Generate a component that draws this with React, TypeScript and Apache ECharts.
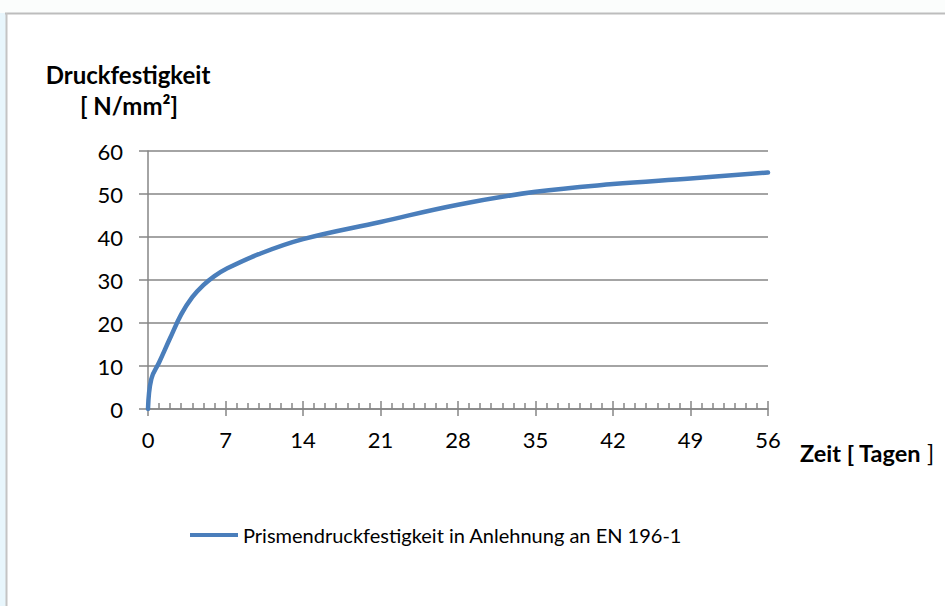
import React, { useEffect, useRef } from "react";
import * as echarts from "echarts";

const days: number[] = [0, 0.3, 1, 2, 3, 4, 5, 6, 7, 10, 14, 21, 28, 35, 42, 49, 56];
const strength: number[] = [0, 7, 10.8, 16.5, 22.0, 26.0, 28.8, 30.9, 32.5, 36, 39.5, 43.5, 47.5, 50.5, 52.3, 53.6, 55];
const seriesName = "Prismendruckfestigkeit in Anlehnung an EN 196-1";
const yTitleLines = ["Druckfestigkeit", "[ N/mm²]"];
const xTitleBold = "Zeit [ Tagen ";
const xTitleEnd = "]";

const FONT = "Lato, 'Open Sans', sans-serif";
const GRAY = "#868686";

export default function App() {
  const ref = useRef<HTMLDivElement>(null);
  useEffect(() => {
    document.body.style.margin = "0";
    const chart = echarts.init(ref.current!, null, { renderer: "svg" });
    const data = days.map((d, i) => [d, strength[i]]);
    chart.setOption({
      animation: false,
      backgroundColor: "#ffffff",
      textStyle: { fontFamily: FONT },
      grid: { left: 148, right: 177, top: 151, bottom: 197, containLabel: false },
      xAxis: [
        {
          type: "value",
          min: 0,
          max: 56,
          interval: 7,
          axisLine: { show: true, lineStyle: { color: GRAY, width: 1.5 } },
          axisTick: { show: true, inside: true, length: 8, lineStyle: { color: GRAY, width: 1.5 } },
          minorTick: { show: true, splitNumber: 7, length: 6, lineStyle: { color: GRAY, width: 1.5 } },
          splitLine: { show: false },
          axisLabel: { color: "#000", fontSize: 22, fontFamily: FONT, margin: 19 },
        },
        {
          type: "value",
          min: 0,
          max: 56,
          interval: 7,
          position: "bottom",
          axisLine: { show: false },
          axisTick: { show: true, inside: false, length: 7, lineStyle: { color: GRAY, width: 1.5 } },
          axisLabel: { show: false },
          splitLine: { show: false },
        },
      ],
      yAxis: {
        type: "value",
        min: 0,
        max: 60,
        interval: 10,
        axisLine: { show: true, lineStyle: { color: GRAY, width: 1.5 } },
        axisTick: { show: true, inside: false, length: 9, lineStyle: { color: GRAY, width: 1.5 } },
        splitLine: { show: true, lineStyle: { color: GRAY, width: 1.5 } },
        axisLabel: { color: "#000", fontSize: 22, fontFamily: FONT, margin: 25 },
      },
      legend: {
        show: true,
        left: 190,
        top: 525,
        padding: 0,
        itemWidth: 48,
        itemHeight: 14,
        itemGap: 5,
        textStyle: { color: "#000", fontSize: 20, fontFamily: FONT },
        data: [{ name: seriesName, icon: "path://M0,6 L48,6 L48,10 L0,10 Z", itemStyle: { color: "#4a7ebb" } }],
      },
      graphic: [
        { type: "rect", shape: { x: 0, y: 0, width: 945, height: 13 }, style: { fill: "#fbfdfc" }, silent: true },
        { type: "rect", shape: { x: 0, y: 13, width: 6, height: 593 }, style: { fill: "#e8f6fc" }, silent: true },
        { type: "line", shape: { x1: 5, y1: 13.5, x2: 945, y2: 13.5 }, style: { stroke: "#bdbdbd", lineWidth: 2 }, silent: true },
        { type: "line", shape: { x1: 6.5, y1: 13, x2: 6.5, y2: 606 }, style: { stroke: "#c4c4c4", lineWidth: 2 }, silent: true },
        {
          type: "text",
          x: 128,
          y: 74,
          style: { text: yTitleLines[0], fontSize: 24, fontWeight: "bold", fontFamily: FONT, fill: "#000", align: "center", verticalAlign: "middle" },
        },
        {
          type: "text",
          x: 129,
          y: 105,
          style: { text: yTitleLines[1], fontSize: 24, fontWeight: "bold", fontFamily: FONT, fill: "#000", align: "center", verticalAlign: "middle" },
        },
        {
          type: "text",
          x: 800,
          y: 453,
          style: {
            text: "{b|" + xTitleBold + "}{n|" + xTitleEnd + "}",
            fontFamily: FONT,
            verticalAlign: "middle",
            align: "left",
            rich: {
              b: { fontSize: 23.5, fontWeight: "bold", fontFamily: FONT, fill: "#000" },
              n: { fontSize: 23.5, fontWeight: "normal", fontFamily: FONT, fill: "#000" },
            },
          },
        },
      ],
      series: [
        {
          name: seriesName,
          type: "line",
          data,
          smooth: 0.4,
          showSymbol: false,
          symbol: "none",
          xAxisIndex: 0,
          lineStyle: { color: "#4a7ebb", width: 4.5, cap: "round", join: "round" },
          itemStyle: { color: "#4a7ebb" },
        },
      ],
    });
    return () => chart.dispose();
  }, []);
  return <div ref={ref} style={{ width: 945, height: 606 }} />;
}
